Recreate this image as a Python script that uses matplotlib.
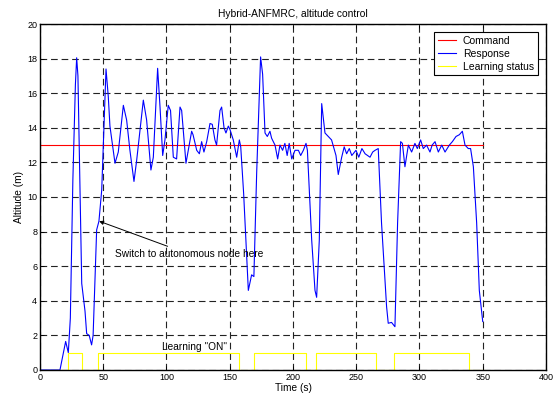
import matplotlib
matplotlib.use("Agg")
import matplotlib.pyplot as plt

plt.rcParams['font.family'] = ['Liberation Sans', 'DejaVu Sans']

# time axis of the response curve (s)
t_resp = [0, 15.8, 20.3, 22.4, 24, 26, 28, 29, 30, 31.5,
          33, 35.6, 36.9, 38.9, 40.8, 42, 44.8, 46.6, 48.8, 52.2,
          54, 55.3, 59.3, 61.9, 65.9, 68.5, 71.1, 74.3, 76.4, 81.7,
          84.3, 87.7, 89.6, 93, 94.9, 97, 98.8, 101.4, 103.2, 105.4,
          108, 110.7, 112, 115.4, 117.2, 119.9, 121, 123.9, 126, 127.8,
          129.6, 131.8, 134.4, 136.2, 138.3, 139.6, 142.3, 143.6, 145.5, 147,
          148.9, 150.2, 152.8, 155.5, 157.6, 158.7, 161, 164.7, 167.3, 169.1,
          171.3, 174.4, 176, 177.9, 179.7, 181.8, 183.1, 185.8, 187.9, 189.7,
          191.8, 193.6, 195.4, 197, 199, 201.6, 204.3, 206.1, 208.2, 210.3,
          211.4, 214.8, 217.4, 218.7, 220.8, 222.7, 225.3, 227.9, 230.5, 234,
          235.8, 238.5, 240.5, 242.4, 244.5, 246.5, 249.8, 252, 254.5, 257,
          260.9, 263, 264.9, 267.4, 270, 274, 275.3, 277.9, 280.6, 282.7,
          285.1, 286.5, 288.5, 291.2, 293.8, 296.4, 298.3, 300.9, 303, 305.6,
          308.3, 310, 312.3, 314.9, 317.6, 320.2, 323.6, 326, 328.9, 331.5,
          333.9, 336, 338.6, 340.4, 342.6, 345.2, 347.3, 350]
# measured altitude (m)
alt_resp = [0, 0, 1.65, 1.0, 3, 11, 16.5, 18.05, 17, 11,
            5, 3.4, 2.1, 2.0, 1.45, 2.0, 8.1, 8.6, 10.4, 17.4,
            15.8, 14.1, 11.95, 12.6, 15.3, 14.45, 12.7, 10.9, 12.1, 15.6,
            14.45, 11.56, 12.3, 17.44, 15.2, 12.4, 13.3, 15.3, 15.0, 12.3,
            12.2, 15.2, 15.0, 11.95, 12.7, 13.8, 13.6, 12.7, 12.5, 13.2,
            12.6, 13.2, 14.25, 14.2, 13.3, 13.0, 15.0, 15.2, 14.0, 13.7,
            14.1, 13.9, 13.3, 12.3, 13.3, 12.9, 10.2, 4.6, 5.5, 5.4,
            11.4, 18.1, 17.1, 13.7, 13.5, 13.8, 13.4, 13.0, 12.2, 13.0,
            12.7, 13.1, 12.4, 13.1, 12.2, 12.7, 12.7, 12.4, 12.7, 13.1,
            12.7, 7.5, 4.6, 4.2, 7.5, 15.4, 13.7, 13.5, 13.3, 12.4,
            11.3, 12.3, 12.9, 12.5, 12.8, 12.4, 12.7, 12.3, 12.8, 12.5,
            12.3, 12.6, 12.7, 12.8, 8.5, 3.66, 2.7, 2.75, 2.5, 8.5,
            13.2, 13.1, 11.75, 13.0, 12.6, 13.1, 12.8, 13.3, 12.8, 13.0,
            12.6, 13.0, 13.2, 12.6, 13.0, 12.6, 13.0, 13.2, 13.5, 13.6,
            13.8, 13.0, 12.8, 12.8, 11.75, 8.5, 4.6, 2.8]

# altitude command
t_cmd = [0, 350]
alt_cmd = [13, 13]

# learning on/off switching instants and state after each instant
t_learn = [0, 22.5, 33, 46, 157.5, 169, 210, 218.5, 265.5, 280, 339.5, 350]
learn_state = [0, 1, 0, 1, 0, 1, 0, 1, 0, 1, 0, 0]

fig = plt.figure(figsize=(5.53, 3.94), dpi=100)
ax = fig.add_axes([0.0723, 0.061, 0.915, 0.878])

ax.plot(t_cmd, alt_cmd, color='red', lw=0.8, label='Command')
ax.plot(t_resp, alt_resp, color='blue', lw=0.8, label='Response')
ax.step(t_learn, learn_state, where='post', color='yellow', lw=0.8,
        label='Learning status')

ax.set_xlim(0, 400)
ax.set_ylim(0, 20)
ax.set_xticks(range(0, 401, 50))
ax.set_yticks(range(0, 21, 2))
ax.grid(True, color='#222222', linestyle=(0, (6, 3.5)), lw=0.8)
ax.tick_params(direction='in', top=True, right=True, length=3, width=0.6,
               labelsize=6.5, pad=2)
for s in ax.spines.values():
    s.set_linewidth(1.0)

ax.set_title('Hybrid-ANFMRC, altitude control', fontsize=7.4, pad=5)
ax.set_xlabel('Time (s)', fontsize=7.3, labelpad=1)
ax.set_ylabel('Altitude (m)', fontsize=7.3, labelpad=2)

ax.annotate('Switch to autonomous node here', xy=(46.8, 8.6),
            xytext=(59, 6.7), fontsize=7.3, va='center', ha='left',
            arrowprops=dict(arrowstyle='-|>', color='black', lw=0.7,
                            mutation_scale=6, shrinkA=0, shrinkB=0))
ax.text(122, 1.35, 'Learning "ON"', fontsize=7.3, ha='center', va='center')

leg = ax.legend(loc='upper right', fontsize=7.5, fancybox=False,
                framealpha=1, edgecolor='black', borderpad=0.35,
                labelspacing=0.28, handlelength=1.75, handletextpad=0.65,
                borderaxespad=0.8)
leg.get_frame().set_linewidth(0.8)

fig.savefig('out.png', dpi=100)
